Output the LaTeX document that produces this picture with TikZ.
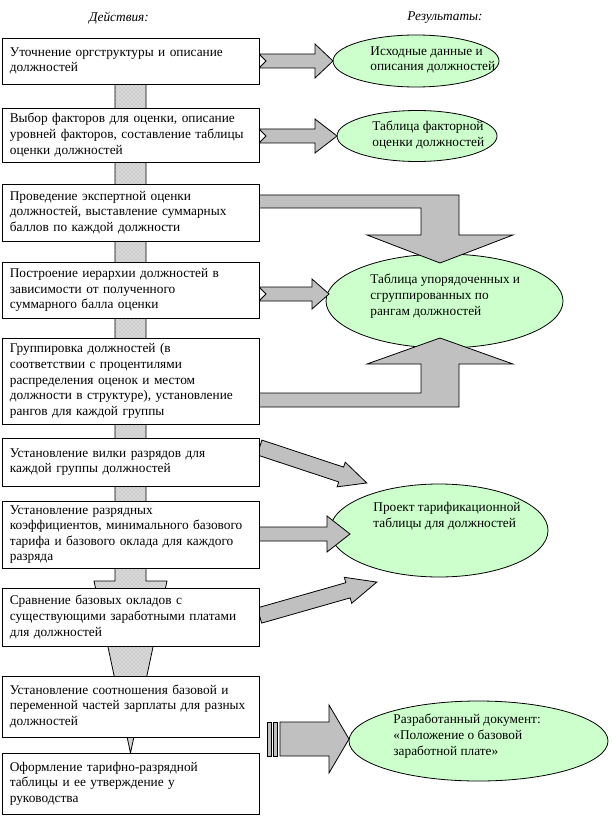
\documentclass[tikz,border=0pt]{standalone}
\usepackage{fontspec}
\setmainfont{Liberation Serif}
\usetikzlibrary{shapes.geometric,patterns}

\definecolor{arrgray}{RGB}{192,192,192}
\definecolor{palegreen}{RGB}{204,255,204}

\tikzset{every picture/.style={line width=0.6pt}}
\tikzset{
	box/.style={draw, fill=white, anchor=north west, minimum width=192.75pt, text width=181pt, inner xsep=5.875pt, inner ysep=2pt, align=left, outer sep=0pt, font=\fontsize{10pt}{11.7pt}\selectfont},
	ell/.style={draw, ellipse, fill=palegreen, inner sep=0pt, outer sep=0pt},
	etext/.style={anchor=north west, inner sep=0pt, align=left, font=\fontsize{10pt}{11.7pt}\selectfont},
	head/.style={font=\fontsize{10pt}{11.7pt}\selectfont\itshape},
	blk/.style={draw, fill=arrgray, line join=miter},
	bar/.style={draw, preaction={fill=gray!30}, pattern=crosshatch dots, pattern color=gray!70}
}

\begin{document}
\begin{tikzpicture}[x=0.75pt,y=0.75pt,yscale=-1,xscale=1]
	\useasboundingbox (0,0) rectangle (611,816);

	% Headers
	\node[head] (hd1) at (119,18) {Действия:};
	\node[head] (hd2) at (445,18) {Результаты:};

	%Shape: long bar with arrow head behind the boxes
	\draw[bar] (115,84) -- (146,84) -- (146,581) -- (167,581) -- (130.5,753) -- (94,581) -- (115,581) -- cycle;

	% Ellipses
	\node[ell, minimum width=124.5pt, minimum height=39pt] (e1) at (416,61) {};
	\node[ell, minimum width=120pt, minimum height=38.25pt] (e2) at (417,136) {};
	\node[ell, minimum width=177.75pt, minimum height=70.5pt] (e3) at (444.5,301) {};
	\node[ell, minimum width=163.5pt, minimum height=69.75pt] (e4) at (439,530.5) {};
	\node[ell, minimum width=194.25pt, minimum height=60pt] (e5) at (478.5,741) {};

	\node[etext] (t1) at (370,46) {Исходные данные и\\описания должностей};
	\node[etext] (t2) at (372,121) {Таблица факторной\\оценки должностей};
	\node[etext] (t3) at (370,274) {Таблица упорядоченных и\\сгруппированных по\\рангам должностей};
	\node[etext] (t4) at (373,502) {Проект тарификационной\\таблицы для должностей};
	\node[etext] (t5) at (393,714) {Разработанный документ:\\«Положение о базовой\\заработной плате»};

	%Shape: Right arrows
	\draw[blk] (259,54) -- (315,54) -- (315,44) -- (e1.west) -- (315,78) -- (315,68) -- (259,68) -- (266,61) -- cycle;
	\draw[blk] (259,129) -- (315,129) -- (315,119) -- (e2.west) -- (315,153) -- (315,143) -- (259,143) -- (266,136) -- cycle;
	\draw[blk] (259,287) -- (312,287) -- (312,279) -- (329,294) -- (312,309) -- (312,301) -- (259,301) -- (266,294) -- cycle;
	\draw[blk] (259,527) -- (327,527) -- (327,516) -- (350,534) -- (327,552) -- (327,541) -- (259,541) -- cycle;

	%Shape: Bent arrows
	\draw[blk] (259,195) -- (459,195) -- (459,235) -- (513,235) -- (440,263) -- (367,235) -- (421,235) -- (421,208) -- (259,208) -- cycle;
	\draw[blk] (259,407) -- (459,407) -- (459,364) -- (513,364) -- (440,338) -- (367,364) -- (421,364) -- (421,393) -- (259,393) -- cycle;

	%Shape: Slanted arrows
	\draw[blk, shift={(259.5,447.5)}, rotate=18.3] (0,-7.8) -- (86,-7.8) -- (86,-13) -- (113,0) -- (86,13) -- (86,7.8) -- (0,7.8) -- cycle;
	\draw[blk, shift={(259.5,615.5)}, rotate=-15.9] (0,-7.9) -- (92,-7.9) -- (92,-13.5) -- (122,0) -- (92,13.5) -- (92,7.9) -- (0,7.9) -- cycle;

	%Shape: Striped arrow
	\draw[blk] (267,722) rectangle (271,756);
	\draw[blk] (273,722) rectangle (277,756);
	\draw[blk] (280,722) -- (329,722) -- (329,705) -- (349,739) -- (329,773) -- (329,756) -- (280,756) -- cycle;

	% Boxes
	\node[box, minimum height=34.5pt] (b1) at (2,38) {Уточнение оргструктуры и описание\\должностей};
	\node[box, minimum height=40.5pt] (b2) at (2,108) {Выбор факторов для оценки, описание\\уровней факторов, составление таблицы\\оценки должностей};
	\node[box, minimum height=42.75pt] (b3) at (2,184) {Проведение экспертной оценки\\должностей, выставление суммарных\\баллов по каждой должности};
	\node[box, minimum height=42pt] (b4) at (2,262) {Построение иерархии должностей в\\зависимости от полученного\\суммарного балла оценки};
	\node[box, minimum height=64.5pt] (b5) at (2,338) {Группировка должностей (в\\соответствии с процентилями\\распределения оценок и местом\\должности в структуре), установление\\рангов для каждой группы};
	\node[box, minimum height=36pt] (b6) at (2,438) {Установление вилки разрядов для\\каждой группы должностей};
	\node[box, minimum height=50.25pt] (b7) at (2,501) {Установление разрядных\\коэффициентов, минимального базового\\тарифа и базового оклада для каждого\\разряда};
	\node[box, minimum height=43.5pt] (b8) at (2,588) {Сравнение базовых окладов с\\существующими заработными платами\\для должностей};
	\node[box, minimum height=45.75pt] (b9) at (2,676) {Установление соотношения базовой и\\переменной частей зарплаты для разных\\должностей};
	\node[box, minimum height=45.75pt] (b10) at (2,753) {Оформление тарифно-разрядной\\таблицы и ее утверждение у\\руководства};

\end{tikzpicture}
\end{document}
